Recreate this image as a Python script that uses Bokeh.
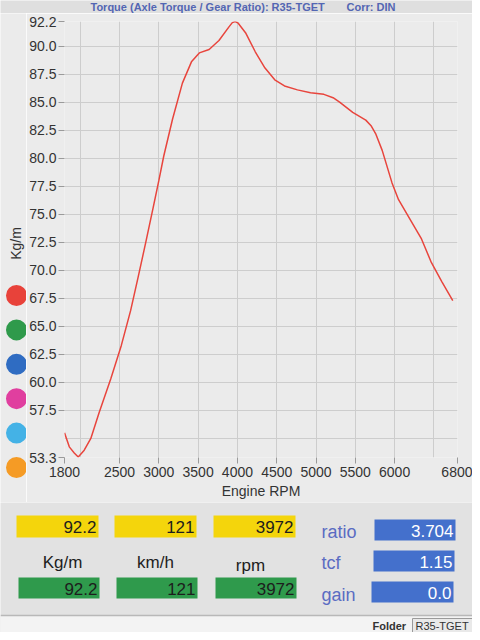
import math
from bokeh.plotting import figure
from bokeh.models import Range1d, FixedTicker, NumeralTickFormatter
from bokeh.layouts import row, column
from bokeh.embed import file_html
from bokeh.resources import INLINE
from bokeh.core.properties import value

# ---------------- data ----------------
rpm = [1800, 1861, 1924, 1975, 2051, 2135, 2240, 2388, 2523, 2641, 2734, 2831,
       2928, 3000, 3063, 3175, 3300, 3415, 3515, 3640, 3765, 3890, 3935, 3972,
       4010, 4103, 4227, 4351, 4475, 4599, 4764, 4930, 5100, 5217, 5300, 5467,
       5633, 5700, 5758, 5842, 5967, 6050, 6217, 6342, 6467, 6600, 6740]
torque = [55.5, 54.25, 53.7, 53.35, 53.95, 55.0, 57.3, 60.3, 63.3, 66.4, 69.3, 72.4,
          75.6, 78.0, 80.2, 83.5, 86.7, 88.6, 89.4, 89.7, 90.5, 91.7, 92.1, 92.2,
          92.05, 91.2, 89.5, 88.05, 87.0, 86.45, 86.1, 85.85, 85.7, 85.4, 85.0, 84.1,
          83.4, 82.9, 82.2, 80.7, 77.8, 76.3, 74.3, 72.8, 70.7, 69.0, 67.3]

x_tick_values = [1800, 2500, 3000, 3500, 4000, 4500, 5000, 5500, 6000, 6800]
x_grid_values = [2000, 2500, 3000, 3500, 4000, 4500, 5000, 5500, 6000, 6500]
y_tick_values = [53.3, 57.5, 60.0, 62.5, 65.0, 67.5, 70.0, 72.5, 75.0, 77.5,
                 80.0, 82.5, 85.0, 87.5, 90.0, 92.2]
y_grid_values = [55.0, 57.5, 60.0, 62.5, 65.0, 67.5, 70.0, 72.5, 75.0, 77.5,
                 80.0, 82.5, 85.0, 87.5, 90.0]

title_main = "Torque (Axle Torque / Gear Ratio): R35-TGET"
title_corr = "Corr: DIN"
x_label = "Engine RPM"
y_label = "Kg/m"

channel_colors = ["#e8423a", "#2f9a4b", "#2f6cc2", "#e03f9f", "#44b2e6", "#f59b25"]

live_values = ["92.2", "121", "3972"]
held_values = ["92.2", "121", "3972"]
unit_names = ["Kg/m", "km/h", "rpm"]
param_names = ["ratio", "tcf", "gain"]
param_values = ["3.704", "1.15", "0.0"]
folder_name = "R35-TGET"

FONT = value("Liberation Sans")
BG = "#ebebeb"
W = 472
TOP_H = 13
MAIN_H = 489
BOT_H = 130


def strip(height, bg):
    f = figure(width=W, height=height, x_range=Range1d(0, W),
               y_range=Range1d(height, 0), x_axis_type=None, y_axis_type=None,
               output_backend="svg", toolbar_location=None, min_border=0)
    f.background_fill_color = bg
    f.border_fill_color = bg
    f.outline_line_color = None
    return f


# ---------------- title strip ----------------
top = strip(TOP_H, "#dfdfdf")
top.text([90, 346], [6, 6], text=[title_main, title_corr], text_align="left",
         text_baseline="middle", text_font=FONT, text_font_size="11px",
         text_font_style="bold", text_color="#5366b3")

# ---------------- main chart ----------------
p = figure(width=446, height=MAIN_H, x_range=Range1d(1800, 6800),
           y_range=Range1d(53.3, 92.2), output_backend="svg",
           toolbar_location=None, min_border_left=36, min_border_right=15,
           min_border_top=8, min_border_bottom=45)
p.background_fill_color = BG
p.border_fill_color = BG
p.outline_line_color = None

p.xgrid.ticker = FixedTicker(ticks=x_grid_values)
p.ygrid.ticker = FixedTicker(ticks=y_grid_values)
p.grid.grid_line_color = "#cdcdcd"
p.grid.grid_line_width = 1

p.xaxis.ticker = FixedTicker(ticks=x_tick_values)
p.yaxis.ticker = FixedTicker(ticks=y_tick_values)
p.yaxis.formatter = NumeralTickFormatter(format="0.0")
for ax in (p.xaxis, p.yaxis):
    ax.axis_line_color = None
    ax.major_tick_line_color = "#9a9a9a"
    ax.major_tick_out = 6
    ax.major_tick_in = 0
    ax.minor_tick_line_color = None
    ax.major_label_text_font = "Liberation Sans"
    ax.major_label_text_font_size = "14px"
    ax.major_label_text_color = "#333333"
    ax.major_label_standoff = 2
p.xaxis.major_label_standoff = 3
p.xaxis.axis_label = x_label
p.xaxis.axis_label_text_font = "Liberation Sans"
p.xaxis.axis_label_text_font_size = "14px"
p.xaxis.axis_label_text_font_style = "normal"
p.xaxis.axis_label_text_color = "#333333"
p.xaxis.axis_label_standoff = 3

p.line(rpm, torque, line_color="#e8453d", line_width=1.5)

# ---------------- left strip: channel dots + y label ----------------
left = figure(width=26, height=MAIN_H, x_range=Range1d(0, 26),
              y_range=Range1d(MAIN_H, 0), x_axis_type=None, y_axis_type=None,
              output_backend="svg", toolbar_location=None, min_border=0)
left.background_fill_color = BG
left.border_fill_color = BG
left.outline_line_color = None
dot_y = [282 + i * 34.4 for i in range(len(channel_colors))]
left.scatter([16] * len(channel_colors), dot_y, size=21, fill_color=channel_colors,
             line_color=None)
left.text([15], [230], text=[y_label], angle=math.pi / 2, text_align="center",
          text_baseline="middle", text_font=FONT, text_font_size="14px",
          text_color="#333333")

# ---------------- bottom readout panel ----------------
bot = strip(BOT_H, "#e2e2e2")

col_left = [16, 114, 213]
col_w = 82
# yellow (live) boxes
bot.quad(left=col_left, right=[c + col_w for c in col_left], top=[13] * 3,
         bottom=[35] * 3, fill_color="#f4d50c", line_color=None)
bot.text([c + col_w - 2 for c in col_left], [24] * 3, text=live_values,
         text_align="right", text_baseline="middle", text_font=FONT,
         text_font_size="17px", text_color="#1d1d1d")
# unit labels
bot.text([62, 155, 250], [60, 60, 63], text=unit_names, text_align="center",
         text_baseline="middle", text_font=FONT, text_font_size="17px",
         text_color="#1d1d1d")
# green (held) boxes
bot.quad(left=[c + 2 for c in col_left], right=[c + col_w + 1 for c in col_left],
         top=[75] * 3, bottom=[96] * 3, fill_color="#2f9a4c", line_color=None)
bot.text([c + col_w - 1 for c in col_left], [86] * 3, text=held_values,
         text_align="right", text_baseline="middle", text_font=FONT,
         text_font_size="17px", text_color="#1d1d1d")
# parameter boxes
prm_y = [29, 60, 92]
bot.text([321] * 3, prm_y, text=param_names, text_align="left",
         text_baseline="middle", text_font=FONT, text_font_size="18px",
         text_color="#5a6cc2")
bot.quad(left=[374, 373, 371], right=[455, 454, 453], top=[17, 48, 79],
         bottom=[38, 69, 100], fill_color="#4470cc", line_color=None)
bot.text([453, 452, 451], [28, 59, 90], text=param_values, text_align="right",
         text_baseline="middle", text_font=FONT, text_font_size="17px",
         text_color="#ffffff")
# footer strip
bot.quad(left=[0], right=[W], top=[113], bottom=[BOT_H], fill_color="#f3f3f3",
         line_color=None)
bot.segment(x0=[0], y0=[113], x1=[W], y1=[113], line_color="#b8b8b8", line_width=1.5)
bot.text([372], [123], text=["Folder"], text_align="left", text_baseline="middle",
         text_font=FONT, text_font_size="11px", text_font_style="bold",
         text_color="#333333")
bot.quad(left=[412], right=[W], top=[116], bottom=[BOT_H], fill_color="#e9e9e9",
         line_color="#9a9a9a", line_width=1)
bot.text([415], [123], text=[folder_name], text_align="left", text_baseline="middle",
         text_font=FONT, text_font_size="11px", text_color="#333333")

layout = column(top, row(column(left), p), bot)
open("out.html", "w").write(file_html(layout, INLINE))
